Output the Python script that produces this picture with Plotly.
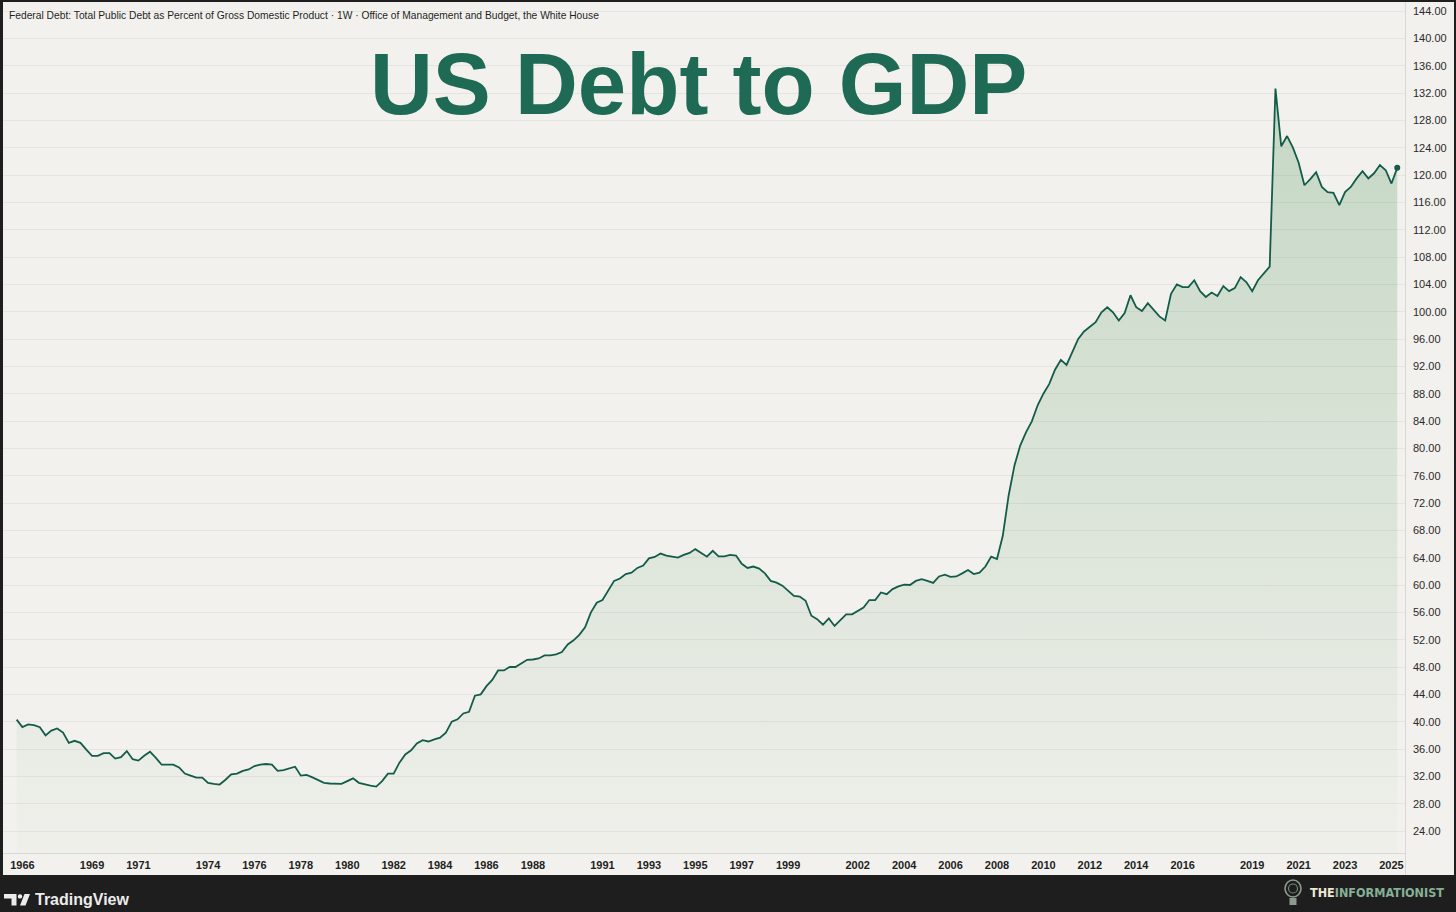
import plotly.graph_objects as go
import pandas as pd

# Federal debt as % of GDP, quarterly from 1966 Q1
debt_pct_gdp = [
    40.3, 39.2, 39.6, 39.5,      # 1966
    39.2, 38.0, 38.7, 39.0,      # 1967
    38.4, 36.9, 37.2, 36.9,      # 1968
    35.9, 35.0, 35.0, 35.4,      # 1969
    35.4, 34.6, 34.8, 35.7,      # 1970
    34.5, 34.3, 35.0, 35.6,      # 1971
    34.7, 33.7, 33.7, 33.7,      # 1972
    33.3, 32.4, 32.1, 31.8,      # 1973
    31.8, 31.05, 30.9, 30.8,     # 1974
    31.5, 32.3, 32.4, 32.8,      # 1975
    33.0, 33.5, 33.7, 33.8,      # 1976
    33.7, 32.8, 32.9, 33.2,      # 1977
    33.4, 32.1, 32.2, 31.85,     # 1978
    31.5, 31.05, 30.95, 30.95,   # 1979
    30.9, 31.3, 31.7, 31.05,     # 1980
    30.8, 30.65, 30.5, 31.3,     # 1981
    32.4, 32.4, 34.0, 35.2,      # 1982
    35.8, 36.8, 37.3, 37.1,      # 1983
    37.4, 37.65, 38.4, 40.0,     # 1984
    40.35, 41.2, 41.45, 43.8,    # 1985
    44.0, 45.2, 46.1, 47.5,      # 1986
    47.5, 48.0, 48.0, 48.55,     # 1987
    49.05, 49.1, 49.25, 49.7,    # 1988
    49.7, 49.85, 50.2, 51.3,     # 1989
    51.9, 52.7, 53.8, 56.0,      # 1990
    57.4, 57.8, 59.2, 60.6,      # 1991
    60.95, 61.6, 61.8, 62.5,     # 1992
    62.85, 63.9, 64.1, 64.6,     # 1993
    64.3, 64.1, 64.0, 64.4,      # 1994
    64.7, 65.25, 64.65, 64.15,   # 1995
    65.0, 64.2, 64.2, 64.4,      # 1996
    64.3, 63.1, 62.5, 62.7,      # 1997
    62.4, 61.7, 60.6, 60.35,     # 1998
    59.9, 59.2, 58.4, 58.3,      # 1999
    57.7, 55.5, 55.0, 54.2,      # 2000
    55.1, 54.0, 54.85, 55.7,     # 2001
    55.7, 56.2, 56.7, 57.8,      # 2002
    57.8, 58.9, 58.65, 59.4,     # 2003
    59.8, 60.05, 60.0, 60.6,     # 2004
    60.85, 60.6, 60.3, 61.25,    # 2005
    61.5, 61.2, 61.25, 61.7,     # 2006
    62.2, 61.6, 61.8, 62.7,      # 2007
    64.15, 63.8, 67.2, 73.1,     # 2008
    77.5, 80.4, 82.35, 83.95,    # 2009
    86.3, 88.0, 89.4, 91.5,      # 2010
    92.95, 92.2, 94.05, 96.0,    # 2011
    97.1, 97.8, 98.45, 99.9,     # 2012
    100.65, 99.9, 98.7, 99.8,    # 2013
    102.4, 100.65, 100.1, 101.25,  # 2014
    100.3, 99.3, 98.7, 102.6,    # 2015
    104.0, 103.6, 103.6, 104.6,  # 2016
    103.0, 102.15, 102.8, 102.3,  # 2017
    103.75, 103.0, 103.45, 105.05,  # 2018
    104.3, 103.0, 104.6, 105.55,  # 2019
    106.6, 132.65, 124.2, 125.7,  # 2020
    124.0, 121.8, 118.5, 119.4,  # 2021
    120.4, 118.25, 117.5, 117.4,  # 2022
    115.6, 117.5, 118.25, 119.5,  # 2023
    120.55, 119.5, 120.25, 121.45,  # 2024
    120.7, 118.75, 121.05,       # 2025
]
quarter_dates = pd.date_range("1966-01-01", periods=len(debt_pct_gdp), freq="QS")

tick_years = [1966, 1969, 1971, 1974, 1976, 1978, 1980, 1982, 1984, 1986, 1988,
              1991, 1993, 1995, 1997, 1999, 2002, 2004, 2006, 2008, 2010, 2012,
              2014, 2016, 2019, 2021, 2023, 2025]
tick_labels = [str(y) for y in tick_years]
# TradingView shows the year label on the first bar that falls inside that year
# in exchange time, i.e. the April bar for quarterly data stamped on Jan 1 UTC.
tick_positions = [f"{y}-04-01" for y in tick_years]

header_text = ("Federal Debt: Total Public Debt as Percent of Gross Domestic Product"
               " · 1W · Office of Management and Budget, the White House")
title_text = "US Debt to GDP"

# ---- styling ----
W, H = 1456, 912
M_L, M_R, M_T, M_B = 3, 51, 3, 59
PLOT_W = W - M_L - M_R
PLOT_H = H - M_T - M_B
PANEL = "#f2f1ed"
GRID = "#e5e4e0"
SEP = "#d9d8d4"
DARK = "#1e1e1e"
LINE = "#145c4a"
TXT = "#1f1f1f"


def px(x):
    return (x - M_L) / PLOT_W


def py(y):
    return (H - M_B - y) / PLOT_H


fig = go.Figure()
fig.add_trace(go.Scatter(
    x=quarter_dates, y=debt_pct_gdp, mode="lines",
    line=dict(color=LINE, width=1.8),
    fill="tozeroy",
    fillgradient=dict(type="vertical", start=21, stop=133,
                      colorscale=[[0, "rgba(100,160,110,0.02)"],
                                  [1, "rgba(100,160,110,0.32)"]]),
    hoverinfo="skip", showlegend=False,
))
fig.add_trace(go.Scatter(
    x=[quarter_dates[-1]], y=[debt_pct_gdp[-1]], mode="markers",
    marker=dict(color=LINE, size=6), hoverinfo="skip", showlegend=False,
))

shapes = [
    # light chart panel
    dict(type="rect", xref="paper", yref="paper", x0=px(3), x1=px(1454),
         y0=py(875), y1=py(2), fillcolor=PANEL, line=dict(width=0), layer="below"),
    # price-scale separator
    dict(type="line", xref="paper", yref="paper", x0=px(1405.5), x1=px(1405.5),
         y0=py(875), y1=py(2), line=dict(color=SEP, width=1)),
    # time-scale separator
    dict(type="line", xref="paper", yref="paper", x0=px(3), x1=px(1405.5),
         y0=py(853.5), y1=py(853.5), line=dict(color=SEP, width=1)),
    # TradingView logo
    dict(type="path", xref="paper", yref="paper",
         path=(f"M{px(4)},{py(894)} L{px(16.5)},{py(894)} L{px(16.5)},{py(905.5)} "
               f"L{px(11.5)},{py(905.5)} L{px(11.5)},{py(898.5)} L{px(4)},{py(898.5)} Z"),
         fillcolor="#ececec", line=dict(width=0)),
    dict(type="circle", xref="paper", yref="paper", x0=px(17.8), x1=px(22.2),
         y0=py(898.6), y1=py(894.2), fillcolor="#ececec", line=dict(width=0)),
    dict(type="path", xref="paper", yref="paper",
         path=(f"M{px(24.5)},{py(894)} L{px(30)},{py(894)} L{px(25.5)},{py(905.5)} "
               f"L{px(20)},{py(905.5)} Z"),
         fillcolor="#ececec", line=dict(width=0)),
    # Informationist lightbulb
    dict(type="circle", xref="paper", yref="paper", x0=px(1285), x1=px(1301),
         y0=py(897), y1=py(880), fillcolor="rgba(0,0,0,0)",
         line=dict(color="#8d9a8f", width=1.6)),
    dict(type="circle", xref="paper", yref="paper", x0=px(1288.5), x1=px(1297.5),
         y0=py(893), y1=py(884), fillcolor="rgba(0,0,0,0)",
         line=dict(color="#6f8a78", width=1.2)),
    dict(type="rect", xref="paper", yref="paper", x0=px(1289.5), x1=px(1296.5),
         y0=py(905), y1=py(898), fillcolor="#8d9a8f", line=dict(width=0)),
]

annotations = [
    dict(text=header_text, xref="paper", yref="paper", x=px(7), y=py(15),
         xanchor="left", yanchor="middle", showarrow=False,
         font=dict(family="Liberation Sans, Arial, sans-serif", size=10.25, color=TXT)),
    dict(text=title_text, xref="paper", yref="paper", x=px(698.5), y=py(83),
         xanchor="center", yanchor="middle", showarrow=False,
         font=dict(family="Liberation Sans, Arial, sans-serif", size=87,
                   color="#1e6a55", weight="bold")),
    dict(text="TradingView", xref="paper", yref="paper", x=px(33), y=py(900),
         xanchor="left", yanchor="middle", showarrow=False,
         font=dict(family="Liberation Sans, Arial, sans-serif", size=16,
                   color="#ececec", weight="bold")),
    dict(text=("<span style='color:#efe8d3'>THE</span>"
               "<span style='color:#86b096'>INFORMATIONIST</span>"),
         xref="paper", yref="paper", x=px(1308), y=py(892),
         xanchor="left", yanchor="middle", showarrow=False,
         font=dict(family="DejaVu Sans Condensed, Liberation Sans Narrow, sans-serif",
                   size=12.5, weight="bold")),
]

fig.update_layout(
    width=W, height=H,
    margin=dict(l=M_L, r=M_R, t=M_T, b=M_B, pad=0),
    paper_bgcolor=DARK, plot_bgcolor=PANEL,
    shapes=shapes, annotations=annotations,
    showlegend=False,
    xaxis=dict(
        type="date", range=["1965-05-31", "2025-10-31"],
        tickmode="array", tickvals=tick_positions, ticktext=tick_labels,
        showgrid=False, zeroline=False, showline=False, ticks="",
        ticklabelstandoff=4,
        tickfont=dict(family="Liberation Sans, Arial, sans-serif", size=11,
                      color=TXT, weight="bold"),
        fixedrange=True,
    ),
    yaxis=dict(
        side="right", range=[20.78, 145.17],
        tickmode="linear", tick0=24, dtick=4, tickformat=".2f",
        showgrid=True, gridcolor=GRID, gridwidth=1,
        zeroline=False, showline=False, ticks="",
        ticklabelstandoff=7,
        tickfont=dict(family="Liberation Sans, Arial, sans-serif", size=11, color="#2a2a2a"),
        fixedrange=True,
    ),
)

fig.write_html(
    "out.html",
    config={"displayModeBar": False},
    post_script="document.body.style.margin='0px';document.body.style.overflow='hidden';",
)
